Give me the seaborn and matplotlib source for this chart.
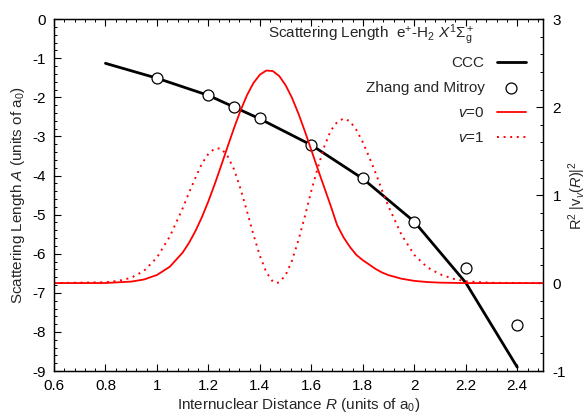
import matplotlib
matplotlib.use("Agg")
import matplotlib.pyplot as plt
import seaborn as sns
from matplotlib.ticker import MultipleLocator, AutoMinorLocator, FormatStrFormatter

# CCC scattering length A(R)
ccc_r = [0.8, 1.0, 1.2, 1.3, 1.4, 1.6, 1.8, 2.0, 2.2, 2.4]
ccc_a = [-1.13, -1.51, -1.95, -2.25, -2.55, -3.22, -4.08, -5.18, -6.74, -8.9]

# Zhang and Mitroy values
zm_r = [1.0, 1.2, 1.3, 1.4, 1.6, 1.8, 2.0, 2.2, 2.4]
zm_a = [-1.5, -1.94, -2.24, -2.54, -3.21, -4.07, -5.19, -6.37, -7.82]

# vibrational densities R^2 |chi_v(R)|^2
v0_r = [0.6, 0.8, 0.9, 0.95, 1.0, 1.05, 1.1, 1.125, 1.15, 1.175, 1.2, 1.225,
        1.25, 1.275, 1.3, 1.325, 1.35, 1.375, 1.4, 1.425, 1.45, 1.475, 1.5,
        1.525, 1.55, 1.575, 1.6, 1.625, 1.65, 1.675, 1.7, 1.725, 1.75, 1.775,
        1.8, 1.825, 1.85, 1.875, 1.9, 1.95, 2.0, 2.05, 2.1, 2.2, 2.5]
v0_p = [0.0, 0.001, 0.017, 0.041, 0.092, 0.186, 0.347, 0.459, 0.594, 0.751,
        0.931, 1.128, 1.339, 1.554, 1.766, 1.963, 2.136, 2.274, 2.369, 2.416,
        2.41, 2.354, 2.249, 2.104, 1.925, 1.724, 1.511, 1.296, 1.088, 0.88,
        0.66, 0.52, 0.41, 0.32, 0.26, 0.21, 0.16, 0.12, 0.09, 0.05, 0.025,
        0.012, 0.005, 0.0, 0.0]

v1_r = [0.6, 0.8, 0.85, 0.9, 0.95, 1.0, 1.05, 1.1, 1.125, 1.15, 1.175, 1.2,
        1.225, 1.25, 1.275, 1.3, 1.325, 1.35, 1.375, 1.4, 1.425, 1.45, 1.465,
        1.475, 1.5, 1.525, 1.55, 1.575, 1.6, 1.625, 1.65, 1.675, 1.7, 1.725,
        1.75, 1.775, 1.8, 1.825, 1.85, 1.875, 1.9, 1.95, 2.0, 2.05, 2.1, 2.15,
        2.2, 2.3, 2.5]
v1_p = [0.0, 0.01, 0.025, 0.06, 0.14, 0.29, 0.53, 0.85, 1.03, 1.2, 1.36, 1.47,
        1.53, 1.53, 1.44, 1.29, 1.07, 0.815, 0.55, 0.31, 0.123, 0.018, 0.0,
        0.01, 0.09, 0.257, 0.49, 0.76, 1.05, 1.31, 1.55, 1.73, 1.83, 1.87,
        1.84, 1.74, 1.6, 1.43, 1.25, 1.05, 0.87, 0.55, 0.32, 0.18, 0.1, 0.05,
        0.02, 0.003, 0.0]

x_ticks = [0.6, 0.8, 1.0, 1.2, 1.4, 1.6, 1.8, 2.0, 2.2, 2.4]
a_ticks = [0, -1, -2, -3, -4, -5, -6, -7, -8, -9]
p_ticks = [-1, 0, 1, 2, 3]

sns.set_theme(style="ticks")
plt.rcParams.update({
    "font.family": ["Liberation Sans", "DejaVu Sans"],
    "mathtext.fontset": "custom",
    "mathtext.rm": "Liberation Sans",
    "mathtext.it": "Liberation Sans:italic",
    "mathtext.bf": "Liberation Sans:bold",
    "axes.unicode_minus": False,
    "font.size": 11,
    "axes.linewidth": 0.9,
    "axes.edgecolor": "black",
    "xtick.color": "black",
    "ytick.color": "black",
})

fig = plt.figure(figsize=(5.87, 4.16), dpi=100)
ax = fig.add_axes([0.092, 0.108, 0.833, 0.846])
ax2 = ax.twinx()

sns.lineplot(x=ccc_r, y=ccc_a, ax=ax, color="black", linewidth=2.0,
             estimator=None, sort=False)
sns.scatterplot(x=zm_r, y=zm_a, ax=ax, marker="o", s=62, color="white",
                edgecolor="black", linewidth=0.9, zorder=3)

sns.lineplot(x=v0_r, y=v0_p, ax=ax2, color="#ff0000", linewidth=1.3,
             estimator=None, sort=False)
sns.lineplot(x=v1_r, y=v1_p, ax=ax2, color="#ff0000", linewidth=1.4,
             estimator=None, sort=False, linestyle=(0, (1, 2.4)))

ax.set_xlim(0.6, 2.5)
ax.set_ylim(-9, 0)
ax2.set_ylim(-1, 3)

ax.set_xticks(x_ticks)
ax.xaxis.set_major_formatter(FormatStrFormatter("%g"))
ax.xaxis.set_minor_locator(MultipleLocator(0.04))
ax.set_yticks(a_ticks)
ax.yaxis.set_minor_locator(AutoMinorLocator(5))
ax2.set_yticks(p_ticks)
ax2.yaxis.set_minor_locator(AutoMinorLocator(5))

ax.tick_params(which="both", direction="in", top=True, right=False,
               labelsize=11, pad=6)
ax.tick_params(which="major", length=5, width=0.8)
ax.tick_params(which="minor", length=2.5, width=0.7)
ax2.tick_params(which="both", direction="in", right=True, labelsize=11, pad=7)
ax2.tick_params(which="major", length=5, width=0.8)
ax2.tick_params(which="minor", length=2.5, width=0.7)

ax.set_xlabel("Internuclear Distance $R$ (units of a$_0$)", fontsize=11,
              labelpad=2)
ax.set_ylabel("Scattering Length $A$ (units of a$_0$)", fontsize=11,
              labelpad=4)
ax2.set_ylabel("R$^2$ |v$_{v}$($R$)|$^2$", fontsize=10.5, labelpad=0)

ax.text(0.438, 0.955,
        "Scattering Length  e$^{+}$-H$_2$ $X^1\\Sigma_\\mathrm{g}^+$",
        transform=ax.transAxes, ha="left", va="center", fontsize=11)

handles = [ax.lines[0], ax.collections[0], ax2.lines[0], ax2.lines[1]]
labels = ["CCC", "Zhang and Mitroy", "$v$=0", "$v$=1"]
leg = ax2.legend(handles, labels, loc="upper right",
                 bbox_to_anchor=(0.965, 0.895), frameon=False,
                 markerfirst=False, handlelength=1.9, handletextpad=0.8,
                 labelspacing=0.72, borderaxespad=0, borderpad=0,
                 scatterpoints=1, fontsize=11)
for col in leg._legend_box.get_children()[1].get_children():
    col.align = "right"

fig.savefig("out.png", dpi=100)
